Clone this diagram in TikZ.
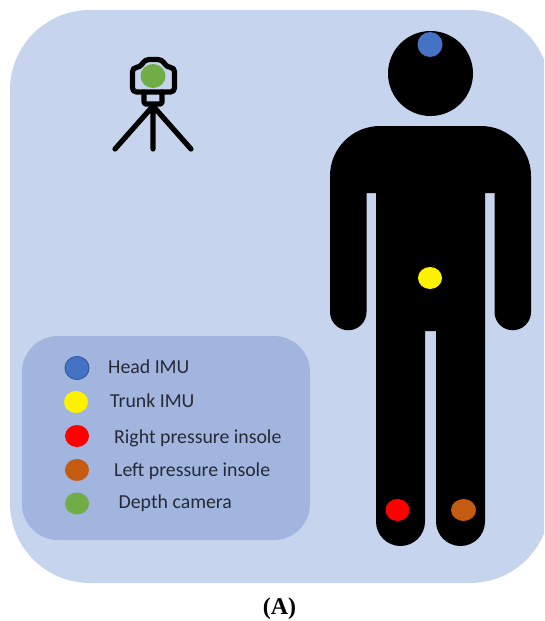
\documentclass[tikz,border=0pt]{standalone}
\usepackage{fontspec}
\setmainfont{Carlito}
\newfontfamily\capfont{Liberation Serif}
\definecolor{panel}{RGB}{198,212,238}
\definecolor{legendbg}{RGB}{161,181,223}
\definecolor{imublue}{RGB}{68,114,196}
\definecolor{imuedge}{RGB}{52,90,155}
\definecolor{insole}{RGB}{197,90,17}
\definecolor{camgreen}{RGB}{112,173,71}
\definecolor{labeltext}{RGB}{38,42,52}
\usetikzlibrary{shapes.geometric}
\tikzset{
  dot/.style={ellipse,minimum width=24pt,minimum height=22pt,inner sep=0pt,fill=#1},
  legendlabel/.style={anchor=base west,inner sep=0pt,text=labeltext,font=\fontsize{19.8}{22}\selectfont},
  campart/.style={draw=black,line width=5.2pt,line join=round,line cap=round}
}
\begin{document}
\begin{tikzpicture}[x=1pt,y=-1pt]
\useasboundingbox (0,0) rectangle (544,621);
\fill[white] (0,0) rectangle (544,621);
% panels
\begin{scope}
\clip (0,0) rectangle (544,621);
\fill[panel,rounded corners=80pt] (10,10) rectangle (550,583);
\end{scope}
\fill[legendbg,rounded corners=36pt] (22,336) rectangle (310,540);
% camera
\draw[campart,rounded corners=4pt] (132.5,67.5) -- (140,67.5) -- (145,59.5) -- (162,59.5) -- (167,67.5) -- (174.5,67.5) -- (174.5,92) -- (132.5,92) -- cycle;
\draw[campart,rounded corners=2pt] (144,92) -- (144,104) -- (162,104) -- (162,92);
\coordinate (apex) at (153,106);
\coordinate (footL) at (115,149);
\coordinate (footM) at (153,149);
\coordinate (footR) at (191,149);
\draw[campart] (apex) -- (footL) (apex) -- (footM) (apex) -- (footR);
\node[dot=camgreen,minimum width=25pt,minimum height=24pt] (lens) at (153,76) {};
% figure
\fill[black] (430.5,73.5) circle (42.5);
\fill[black] (380,126) -- (481,126) arc[start angle=-90,end angle=0,radius=50]
  -- (531,312) arc[start angle=0,end angle=180,radius=18.25]
  -- (494.5,193) -- (485,193) -- (485,521.5)
  arc[start angle=0,end angle=180,radius=24.5]
  -- (436,331) -- (425,331) -- (425,521.5)
  arc[start angle=0,end angle=180,radius=24.5]
  -- (376,193) -- (366.5,193) -- (366.5,312)
  arc[start angle=0,end angle=180,radius=18.25]
  -- (330,176) arc[start angle=180,end angle=270,radius=50] -- cycle;
\node[dot=imublue,minimum width=25pt,minimum height=25pt] (head) at (430,44.5) {};
\node[dot=yellow] (trunk) at (430,278) {};
\node[dot=red] (rightfoot) at (397.5,510) {};
\node[dot=insole,minimum width=25pt] (leftfoot) at (463.5,510) {};
% legend
\node[dot=imublue,draw=imuedge,line width=1pt,minimum width=24pt,minimum height=23pt] (k1) at (77,368) {};
\node[dot=yellow] (k2) at (76,402) {};
\node[dot=red] (k3) at (77,436) {};
\node[dot=insole] (k4) at (77,470) {};
\node[dot=camgreen] (k5) at (77,503.5) {};
\node[legendlabel] (t1) at (108,373.5) {Head IMU};
\node[legendlabel] (t2) at (110,407.5) {Trunk IMU};
\node[legendlabel] (t3) at (114,443) {Right pressure insole};
\node[legendlabel] (t4) at (114,476) {Left pressure insole};
\node[legendlabel] (t5) at (118.5,508) {Depth camera};
\node[inner sep=0pt,anchor=base,font=\capfont\bfseries\fontsize{24}{26}\selectfont,text=black] (cap) at (279.5,614) {(A)};
\end{tikzpicture}
\end{document}
